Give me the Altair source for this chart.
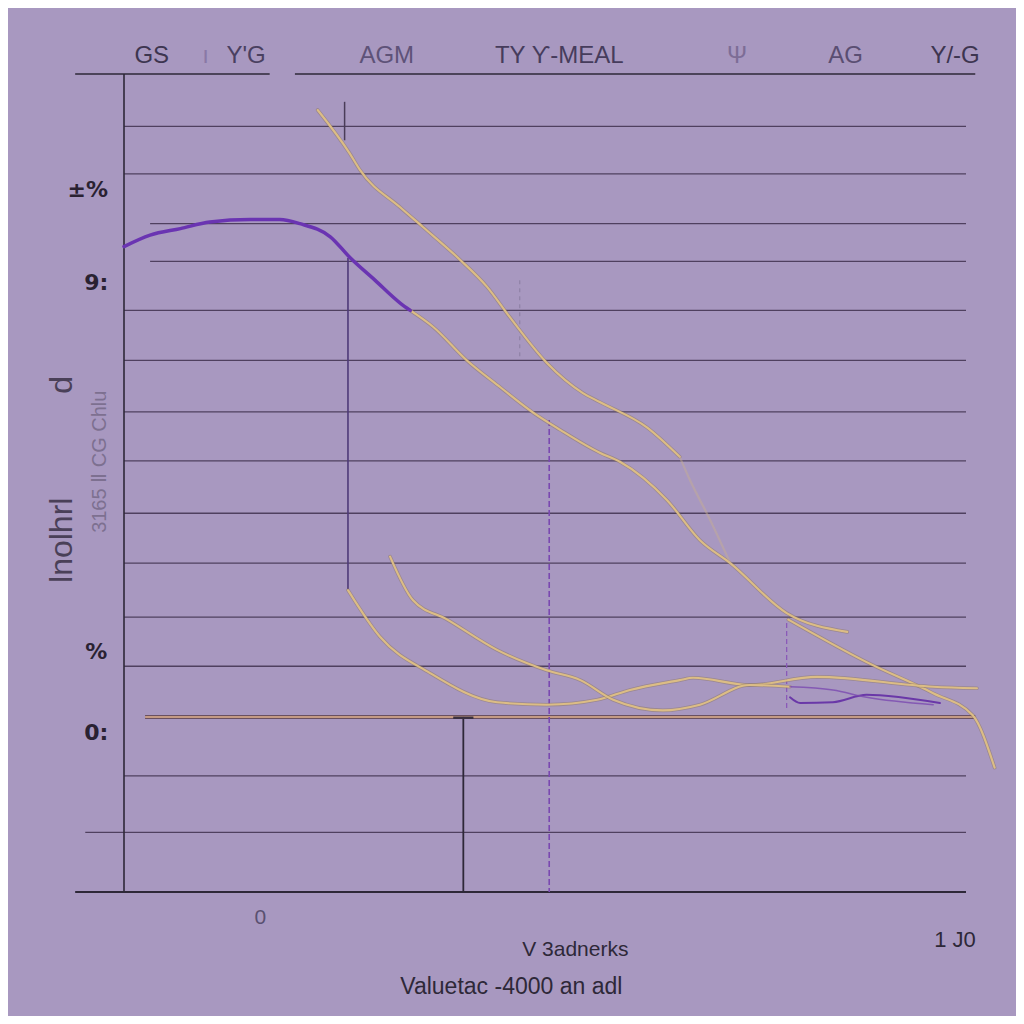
import altair as alt
import pandas as pd

# ---- data (chart units: x 0..100 across plot, y 0..100 bottom->top) ----
purple_x = [0.0, 3.1, 6.7, 10.2, 15.0, 18.5, 20.9, 24.5, 26.8, 29.8, 32.8, 34.0]
purple_y = [78.9, 80.3, 81.1, 81.9, 82.2, 82.2, 81.7, 80.1, 77.6, 74.8, 72.0, 71.1]

tanA_x = [23.0, 26.8, 28.0, 32.8, 35.5, 39.9, 43.1, 45.8, 50.2, 54.5, 56.5, 62.1, 66.0]
tanA_y = [95.6, 90.3, 88.3, 83.7, 81.3, 77.3, 74.0, 70.3, 64.7, 61.0, 59.9, 56.8, 53.2]

tanA2_x = [66.0, 67.2, 69.6, 72.0]
tanA2_y = [53.2, 50.4, 45.5, 40.2]

tanB_x = [34.0, 36.7, 40.7, 44.7, 48.6, 51.8, 56.5, 58.9, 64.5, 68.4, 72.0, 78.7, 85.9]
tanB_y = [71.1, 69.1, 65.0, 61.7, 58.6, 56.5, 53.7, 52.6, 47.9, 43.0, 40.2, 34.1, 31.8]

tanG_x = [78.9, 88.2, 96.1, 100.8, 103.4]
tanG_y = [33.3, 28.1, 24.3, 21.6, 15.2]

tanE_x = [26.6, 30.4, 36.3, 44.3, 50.2, 56.2, 60.1, 66.0, 67.6, 74.3, 82.3, 96.1, 101.3]
tanE_y = [36.9, 31.2, 26.8, 23.2, 22.9, 23.5, 24.7, 25.9, 26.2, 25.3, 26.3, 25.1, 24.9]

tanF_x = [31.6, 34.3, 38.4, 44.3, 50.2, 54.2, 58.1, 64.0, 68.4, 74.3, 79.1]
tanF_y = [41.0, 35.7, 33.3, 29.6, 27.1, 25.9, 23.5, 22.2, 22.9, 25.3, 25.1]

low1_x = [79.1, 80.3, 84.2, 88.2, 92.2, 96.9]
low1_y = [23.8, 23.1, 23.2, 24.1, 23.8, 23.1]
low2_x = [79.1, 84.2, 88.2, 96.1]
low2_y = [25.1, 24.7, 23.8, 22.9]

grid_y = [93.6, 87.8, 81.7, 77.1, 71.1, 65.0, 58.7, 52.7, 46.3, 40.2, 33.6, 27.6, 14.2, 7.3]
grid_x0 = [0, 0, 3.1, 3.1, 0, 0, 0, 0, 0, 0, 0, 0, 0, -4.6]
grid_x1 = [100] * 14

top_labels = ["GS", "ı", "Y'G", "AGM", "TY Ƴ-MEAL", "Ψ", "AG", "Y/-G"]
top_x = [3.3, 9.7, 14.5, 31.2, 51.7, 72.8, 85.7, 98.7]
top_color = ["#3d3550", "#8a78a6", "#4a4060", "#5e5278", "#463c5c", "#7d6d96", "#5a4e72", "#3d3550"]

left_labels = ["±%", "9:", "%", "0:"]
left_x = [-4.3, -3.3, -3.3, -3.3]
left_y = [85.8, 74.4, 29.3, 19.4]

bottom_labels = ["0", "1 J0", "V 3adnerks", "Valuetac -4000 an adl"]
bottom_x = [16.2, 98.7, 53.6, 46.0]
bottom_y = [-3.2, -5.9, -7.1, -11.6]
bottom_color = ["#5a5070", "#2e2838", "#2e2838", "#2e2838"]
bottom_size = [21, 22, 21, 23]

XS = alt.Scale(domain=[0, 100], nice=False, zero=False)
YS = alt.Scale(domain=[0, 100], nice=False, zero=False)


def X(f="x"):
    return alt.X(f"{f}:Q", scale=XS, axis=None)


def Y(f="y"):
    return alt.Y(f"{f}:Q", scale=YS, axis=None)


def line(xs, ys, color, width, opacity=1.0, dash=None):
    df = pd.DataFrame({"x": xs, "y": ys, "o": list(range(len(xs)))})
    kw = dict(color=color, strokeWidth=width, opacity=opacity, interpolate="monotone",
              strokeCap="round")
    if dash:
        kw["strokeDash"] = dash
    return alt.Chart(df).mark_line(**kw).encode(x=X(), y=Y(), order="o:Q")


def hrule(x0, x1, y, color, width, opacity=1.0):
    df = pd.DataFrame({"x": x0, "x2": x1, "y": y})
    return alt.Chart(df).mark_rule(color=color, strokeWidth=width, opacity=opacity).encode(
        x=X(), x2="x2:Q", y=Y())


def vrule(x, y0, y1, color, width, opacity=1.0, dash=None):
    df = pd.DataFrame({"x": [x], "y": [y0], "y2": [y1]})
    kw = dict(color=color, strokeWidth=width, opacity=opacity)
    if dash:
        kw["strokeDash"] = dash
    return alt.Chart(df).mark_rule(**kw).encode(x=X(), y=Y(), y2="y2:Q")


layers = []
# gridlines
layers.append(hrule(grid_x0, grid_x1, grid_y, "#4f405f", 1.3))
# axes frame
layers.append(hrule([-5.8, 20.3], [17.3, 101.1], [100, 100], "#2e2838", 1.6))
layers.append(hrule([-5.8], [100], [0], "#2e2838", 1.8))
layers.append(vrule(0, 0, 100, "#2e2838", 1.6))
# thick tan horizontal
layers.append(hrule([2.5], [101.1], [21.4], "#6a5060", 4.0))
layers.append(hrule([2.5], [101.1], [21.4], "#c49a84", 2.0))
# verticals
layers.append(vrule(26.6, 77.5, 36.9, "#4e3a78", 1.6))
layers.append(vrule(26.2, 96.6, 91.9, "#4a3c58", 1.5))
layers.append(vrule(40.3, 21.4, 0, "#2e2838", 1.8))
layers.append(hrule([39.1], [41.5], [21.3], "#3a3040", 2.5))
layers.append(vrule(50.5, 57.7, 0, "#7a48b0", 1.6, dash=[6, 3]))
layers.append(vrule(78.7, 32.9, 22.2, "#8a5ab8", 1.3, dash=[5, 3]))
layers.append(vrule(47.0, 74.8, 65.0, "#8f82a6", 1.2, dash=[4, 4]))
# tan curves
TAN = "#dcbd85"
for xs, ys in [(tanA_x, tanA_y), (tanB_x, tanB_y), (tanG_x, tanG_y), (tanE_x, tanE_y), (tanF_x, tanF_y)]:
    layers.append(line(xs, ys, "#8c7560", 3.6, 0.5))
    layers.append(line(xs, ys, TAN, 2.1))
layers.append(line(tanA2_x, tanA2_y, "#c8b090", 2.2, 0.45))
# purple curves
layers.append(line(purple_x, purple_y, "#6a34b2", 3.5))
layers.append(line(low1_x, low1_y, "#6a38a8", 2.0))
layers.append(line(low2_x, low2_y, "#7a4ab0", 1.6, 0.8))

# texts
tdf = pd.DataFrame({"t": top_labels, "x": top_x, "y": [102.2] * len(top_labels), "c": top_color})
layers.append(alt.Chart(tdf).mark_text(font="Liberation Sans", fontSize=24, baseline="middle").encode(
    x=X(), y=Y(), text="t:N", color=alt.Color("c:N", scale=None)))

ldf = pd.DataFrame({"t": left_labels, "x": left_x, "y": left_y})
layers.append(alt.Chart(ldf).mark_text(font="DejaVu Sans", fontSize=22, fontWeight="bold",
                                       color="#2a2232", baseline="middle").encode(
    x=X(), y=Y(), text="t:N"))

bdf = pd.DataFrame({"t": bottom_labels, "x": bottom_x, "y": bottom_y, "c": bottom_color,
                    "s": bottom_size})
layers.append(alt.Chart(bdf).mark_text(font="Liberation Sans", baseline="middle").encode(
    x=X(), y=Y(), text="t:N", color=alt.Color("c:N", scale=None),
    size=alt.Size("s:Q", scale=None, legend=None)))

rdf = pd.DataFrame({"t": ["lnolhrl", "d"], "x": [-7.4, -7.4], "y": [43.0, 62.0]})
layers.append(alt.Chart(rdf).mark_text(font="Liberation Sans", fontSize=32, angle=270,
                                       color="#4a4058", baseline="middle").encode(
    x=X(), y=Y(), text="t:N"))
r2df = pd.DataFrame({"t": ["3165 Ⅱ CG Chlu"], "x": [-2.9], "y": [52.6]})
layers.append(alt.Chart(r2df).mark_text(font="Liberation Sans", fontSize=20, angle=270,
                                        color="#7d7090", baseline="middle").encode(
    x=X(), y=Y(), text="t:N"))

chart = alt.layer(*layers).properties(
    width=842, height=818,
    autosize="none",
    padding={"left": 116, "top": 66, "right": 50, "bottom": 124},
    background="#a898c0",
).configure_view(stroke=None)

chart.save("out.html", embed_options={"renderer": "svg", "actions": False})
